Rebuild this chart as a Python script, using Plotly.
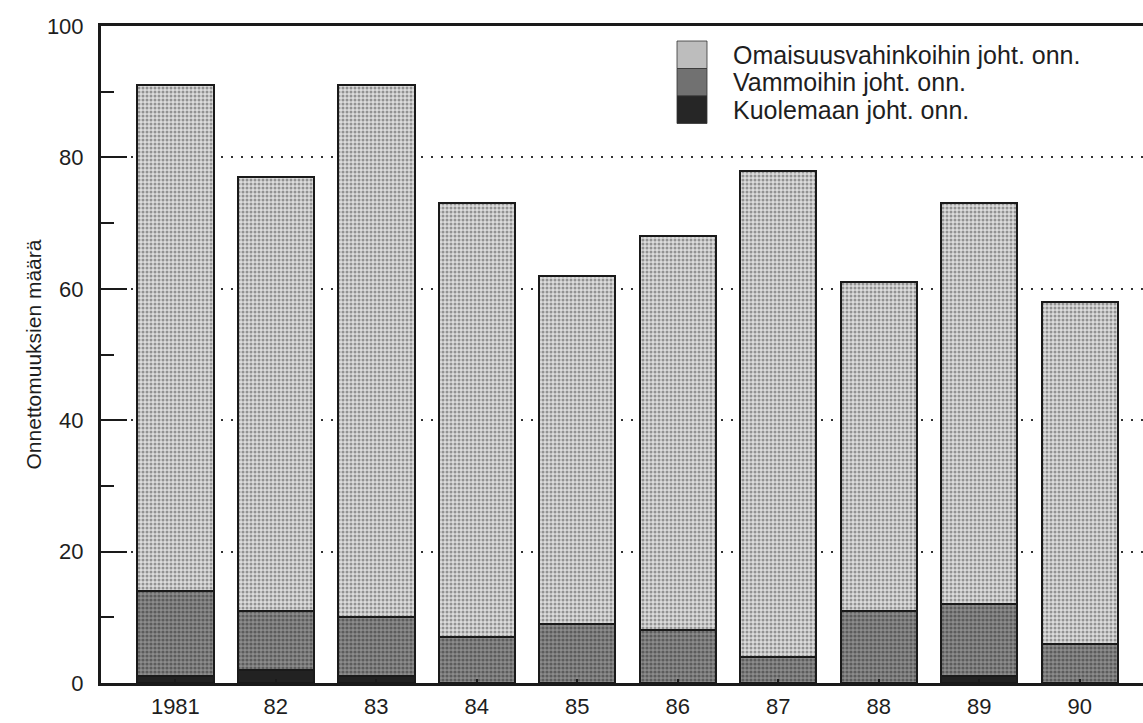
import plotly.graph_objects as go

years = ["1981", "82", "83", "84", "85", "86", "87", "88", "89", "90"]
kuolema = [1, 2, 1, 0, 0, 0, 0, 0, 1, 0]
vammat = [13, 9, 9, 7, 9, 8, 4, 11, 11, 6]
omaisuus = [77, 66, 81, 66, 53, 60, 74, 50, 61, 52]

names = ["Kuolemaan joht. onn.", "Vammoihin joht. onn.", "Omaisuusvahinkoihin joht. onn."]
swatch_colors = ["#262626", "#717171", "#bdbdbd"]

FONT = "Liberation Sans, Arial, Helvetica, sans-serif"
W, H = 1143, 723
ML, MR, MT, MB = 101, 0, 26, 40
PW, PH = W - ML - MR, H - MT - MB


def px(x):
    return (x - ML) / PW


def py(y):
    return (H - MB - y) / PH


fig = go.Figure()
line = dict(color="#1a1a1a", width=2)
fig.add_trace(go.Bar(x=years, y=kuolema, name=names[0], width=0.76,
                     marker=dict(color="#222222", line=line)))
fig.add_trace(go.Bar(x=years, y=vammat, name=names[1], width=0.76,
                     marker=dict(color="#6e6e6e", line=line,
                                 pattern=dict(shape=".", fgcolor="#2c2c2c", bgcolor="#8c8c8c",
                                              size=4, solidity=0.5))))
fig.add_trace(go.Bar(x=years, y=omaisuus, name=names[2], width=0.76,
                     marker=dict(color="#bcbcbc", line=line,
                                 pattern=dict(shape=".", fgcolor="#474747", bgcolor="#dcdcdc",
                                              size=4, solidity=0.45))))

# manual legend (swatch column + labels), top entry first
shapes = []
annotations = []
legend_rows = list(reversed(range(3)))  # omaisuus, vammat, kuolema
sw_x0, sw_x1 = 677, 707
row_top = 41
row_h = 27.5
for k, idx in enumerate(legend_rows):
    y0 = row_top + k * row_h
    y1 = y0 + row_h
    shapes.append(dict(type="rect", xref="paper", yref="paper",
                       x0=px(sw_x0), x1=px(sw_x1), y0=py(y1), y1=py(y0),
                       fillcolor=swatch_colors[idx], line=dict(color="#333333", width=0.8),
                       layer="above"))
    annotations.append(dict(xref="paper", yref="paper", x=px(731), y=py((y0 + y1) / 2),
                            xanchor="left", yanchor="middle", showarrow=False,
                            text=names[idx], font=dict(size=25, color="#1e1e1e", family=FONT)))

fig.update_layout(
    width=W, height=H,
    barmode="stack",
    paper_bgcolor="white", plot_bgcolor="white",
    margin=dict(l=ML, r=MR, t=MT, b=MB, autoexpand=False),
    font=dict(family=FONT, size=22, color="#1e1e1e"),
    showlegend=False,
    shapes=shapes,
    annotations=annotations,
    xaxis=dict(range=[-0.74, 9.63], showline=True, linecolor="#1a1a1a", linewidth=3,
               mirror=True, ticks="inside", ticklen=4, tickwidth=1.5, tickcolor="#1a1a1a",
               showgrid=False, zeroline=False, ticklabelstandoff=2, automargin=False,
               tickfont=dict(size=22)),
    yaxis=dict(range=[0, 100], showline=True, linecolor="#1a1a1a", linewidth=3,
               ticks="inside", ticklen=26, tickwidth=1.5, tickcolor="#1a1a1a",
               dtick=20, tick0=0, automargin=False,
               minor=dict(ticks="inside", ticklen=13, tickwidth=1.5, tickcolor="#1a1a1a",
                          dtick=10, showgrid=False),
               showgrid=True, gridcolor="#333333", griddash="2px,8px", gridwidth=1.5,
               zeroline=False, ticklabelstandoff=10,
               tickfont=dict(size=22),
               title=dict(text="Onnettomuuksien määrä", font=dict(size=21), standoff=0)),
)

fig.write_html("out.html", config={"displayModeBar": False},
               post_script="document.body.style.margin='0';")
